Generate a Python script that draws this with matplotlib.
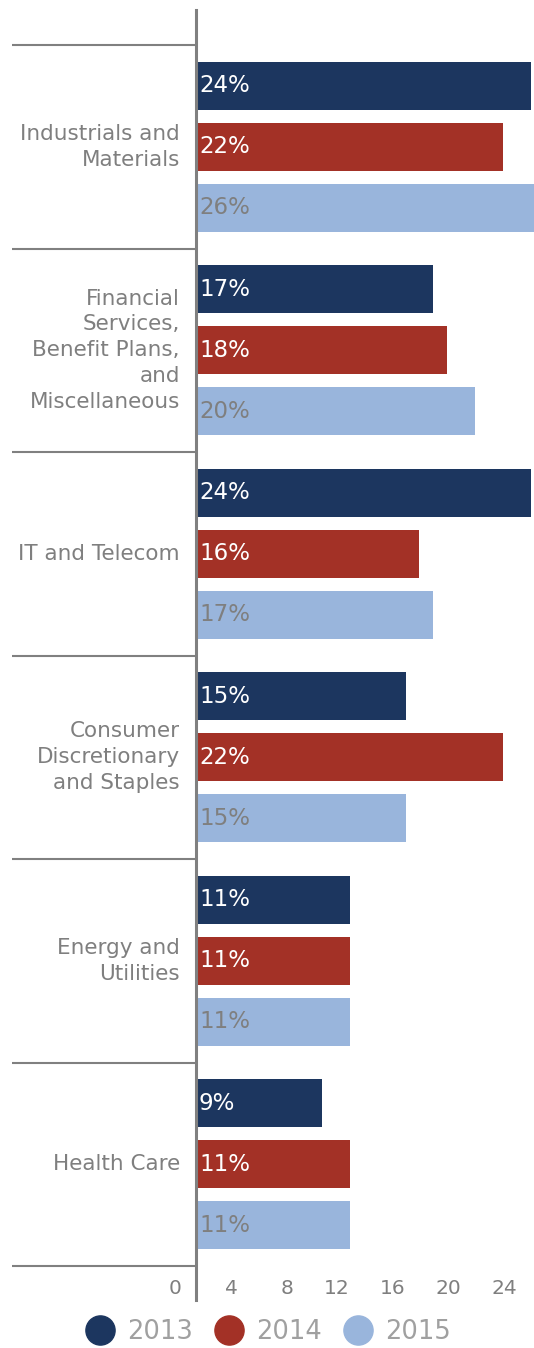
import matplotlib.pyplot as plt
from matplotlib.lines import Line2D
from matplotlib.transforms import ScaledTranslation

plt.rcParams['font.family'] = ['DejaVu Sans']

categories = ['Industrials and\nMaterials',
              'Financial\nServices,\nBenefit Plans,\nand\nMiscellaneous',
              'IT and Telecom',
              'Consumer\nDiscretionary\nand Staples',
              'Energy and\nUtilities',
              'Health Care']
years = ['2013', '2014', '2015']
v2013 = [24, 17, 24, 15, 11, 9]
v2014 = [22, 18, 16, 22, 11, 11]
v2015 = [26, 20, 17, 15, 11, 11]
xticks = [0, 4, 8, 12, 16, 20, 24]

colors = ['#1c365f', '#a33126', '#99b5dc']
label_colors = ['white', 'white', '#7f7f7f']
gray = '#808080'

fig = plt.figure(figsize=(5.34, 13.48), dpi=100)
W, H = 534, 1348
ax = fig.add_axes([196 / W, 48 / H, 1 - 196 / W, (1300 - 10) / H])

series = [v2013, v2014, v2015]
offsets = [0.2, 0.5, 0.8]
for s, vals in enumerate(series):
    ys = [i + offsets[s] for i in range(len(categories))]
    ax.barh(ys, vals, height=0.236, color=colors[s], edgecolor='none')
    for y, v in zip(ys, vals):
        ax.annotate(f'{v}%', (0, y), xytext=(3, 0), textcoords='offset pixels',
                    ha='left', va='center', fontsize=16.5, color=label_colors[s])

ax.set_xlim(0, 24.2)
ax.set_ylim(6 + 34 / 203.5, -35 / 203.5)

# group separators, drawn to the left of the axis
ax.hlines(range(len(categories) + 1), -184 / 338, 0, colors=gray, lw=1.5,
          transform=ax.get_yaxis_transform(), clip_on=False)

for i, c in enumerate(categories):
    ax.text(-16 / 338, i + 0.5, c, transform=ax.get_yaxis_transform(),
            ha='right', va='center', fontsize=15.5, color='#7f7f7f',
            linespacing=1.36, multialignment='right')

# tick labels sit above the bottom of the axis line
off = ScaledTranslation(-14 / 100, 0, fig.dpi_scale_trans)
for t in xticks:
    ax.text(t, 6 + 22 / 203.5, str(t), ha='right', va='center', fontsize=14.5,
            color='#7f7f7f', transform=ax.transData + off)

for side in ['top', 'right', 'bottom']:
    ax.spines[side].set_visible(False)
ax.spines['left'].set_color(gray)
ax.spines['left'].set_linewidth(2.2)
ax.set_xticks([])
ax.set_yticks([])

handles = [Line2D([], [], ls='', marker='o', markersize=21, color=c) for c in colors]
fig.legend(handles, years, loc='center', bbox_to_anchor=(0.5, 1 - 1332 / H),
           ncol=3, frameon=False, fontsize=18.5, labelcolor='#a0a0a0',
           handletextpad=0.4, columnspacing=0.75, handlelength=1.3,
           borderpad=0.1)

fig.savefig('out.png', dpi=100)
